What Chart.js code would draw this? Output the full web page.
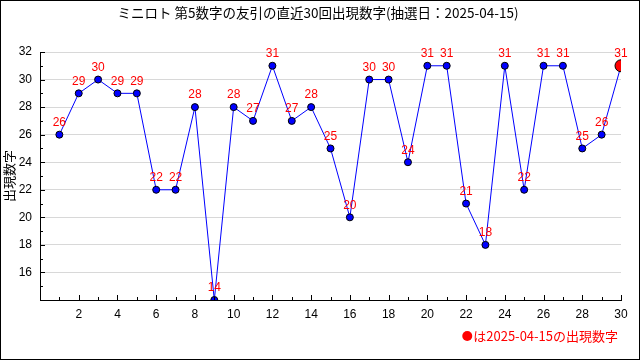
<!DOCTYPE html>
<html>
<head>
<meta charset="utf-8">
<script src="https://cdn.jsdelivr.net/npm/chart.js@4"></script>
<style>
body { margin: 0; background: #fff; }
canvas { display: block; }
</style>
</head>
<body>
<canvas id="chart" width="640" height="360"></canvas>
<script>
// --- data ---
const drawNos = [1, 2, 3, 4, 5, 6, 7, 8, 9, 10, 11, 12, 13, 14, 15, 16, 17, 18, 19, 20, 21, 22, 23, 24, 25, 26, 27, 28, 29, 30];
const numbers = [26, 29, 30, 29, 29, 22, 22, 28, 14, 28, 27, 31, 27, 28, 25, 20, 30, 30, 24, 31, 31, 21, 18, 31, 22, 31, 31, 25, 26, 31];
const titleText = "ミニロト 第5数字の友引の直近30回出現数字(抽選日：2025-04-15)";
const yTitle = "出現数字";
const legendText = "は2025-04-15の出現数字";

const jpFont = '"Noto Sans CJK JP", "DejaVu Sans", sans-serif';
const numFont = '"Liberation Sans", sans-serif';
const last = numbers.length - 1;

// Extra drawing: title, inward ticks, value labels, legend
const decor = {
  id: 'decor',
  beforeDraw(chart) {
    const c = chart.ctx;
    c.save();
    c.fillStyle = '#fff';
    c.fillRect(0, 0, chart.width, chart.height);
    c.restore();
  },
  afterDatasetsDraw(chart) {
    const c = chart.ctx;
    const meta = chart.getDatasetMeta(0);
    c.save();
    c.font = '12px ' + numFont;
    c.fillStyle = '#ff0000';
    c.textAlign = 'center';
    c.textBaseline = 'middle';
    meta.data.forEach((pt, i) => {
      c.fillText(String(numbers[i]), pt.x, pt.y - 12);
    });
    c.restore();
  },
  afterDraw(chart) {
    const c = chart.ctx;
    const xs = chart.scales.x, ys = chart.scales.y;
    const area = chart.chartArea;
    c.save();
    c.strokeStyle = '#000';
    c.lineWidth = 1;
    c.beginPath();
    for (let v = 0; v <= 30; v++) {
      const px = Math.round(xs.getPixelForValue(v)) + 0.5;
      const len = v % 2 === 0 ? 5 : 3;
      c.moveTo(px, area.bottom);
      c.lineTo(px, area.bottom - len);
    }
    for (let v = 14; v <= 32; v++) {
      const py = Math.round(ys.getPixelForValue(v)) + 0.5;
      const len = v % 2 === 0 ? 5 : 3;
      c.moveTo(area.left, py);
      c.lineTo(area.left + len, py);
    }
    c.stroke();

    // title
    c.fillStyle = '#000';
    c.font = '13.5px ' + jpFont;
    c.textAlign = 'center';
    c.textBaseline = 'middle';
    c.fillText(titleText, 318, 13);

    // y title
    c.save();
    c.translate(9, (area.top + area.bottom) / 2);
    c.rotate(-Math.PI / 2);
    c.font = '13px ' + jpFont;
    c.fillText(yTitle, 0, 0);
    c.restore();

    // legend
    c.fillStyle = '#ff0000';
    c.textAlign = 'right';
    c.font = '13px ' + jpFont;
    c.fillText(legendText, 618, 336);
    const w = c.measureText(legendText).width;
    c.beginPath();
    c.arc(618 - w - 6, 336, 5, 0, Math.PI * 2);
    c.fill();

    // outer frame
    c.strokeStyle = '#000';
    c.strokeRect(0.5, 0.5, chart.width - 1, chart.height - 1);
    c.restore();
  }
};

const ctx = document.getElementById('chart');
new Chart(ctx, {
  type: 'line',
  data: {
    datasets: [{
      data: drawNos.map((d, i) => ({ x: d, y: numbers[i] })),
      borderColor: '#0000ff',
      borderWidth: 1,
      tension: 0,
      pointBackgroundColor: numbers.map((n, i) => i === last ? '#ff0000' : '#0000ff'),
      pointBorderColor: '#000',
      pointBorderWidth: 1,
      pointRadius: numbers.map((n, i) => i === last ? 6 : 3.5)
    }]
  },
  options: {
    responsive: false,
    animation: false,
    layout: { autoPadding: false, padding: { top: 52, right: 19, bottom: 40, left: 0 } },
    plugins: { legend: { display: false }, tooltip: { enabled: false } },
    scales: {
      x: {
        type: 'linear', min: 0, max: 30,
        afterFit: s => { s.height = 20; },
        grid: { display: false, drawTicks: false },
        border: { color: '#000', width: 1 },
        ticks: {
          stepSize: 2, padding: 7, color: '#000',
          font: { family: 'Liberation Sans', size: 12 },
          callback: v => v === 0 ? '' : v
        }
      },
      y: {
        min: 14, max: 32,
        afterFit: s => { s.width = 40; },
        grid: { color: '#d8d8d8', drawTicks: false },
        border: { color: '#000', width: 1 },
        ticks: {
          stepSize: 2, padding: 8, color: '#000',
          font: { family: 'Liberation Sans', size: 12 },
          callback: v => v === 14 ? '' : v
        }
      }
    }
  },
  plugins: [decor]
});
</script>
</body>
</html>
